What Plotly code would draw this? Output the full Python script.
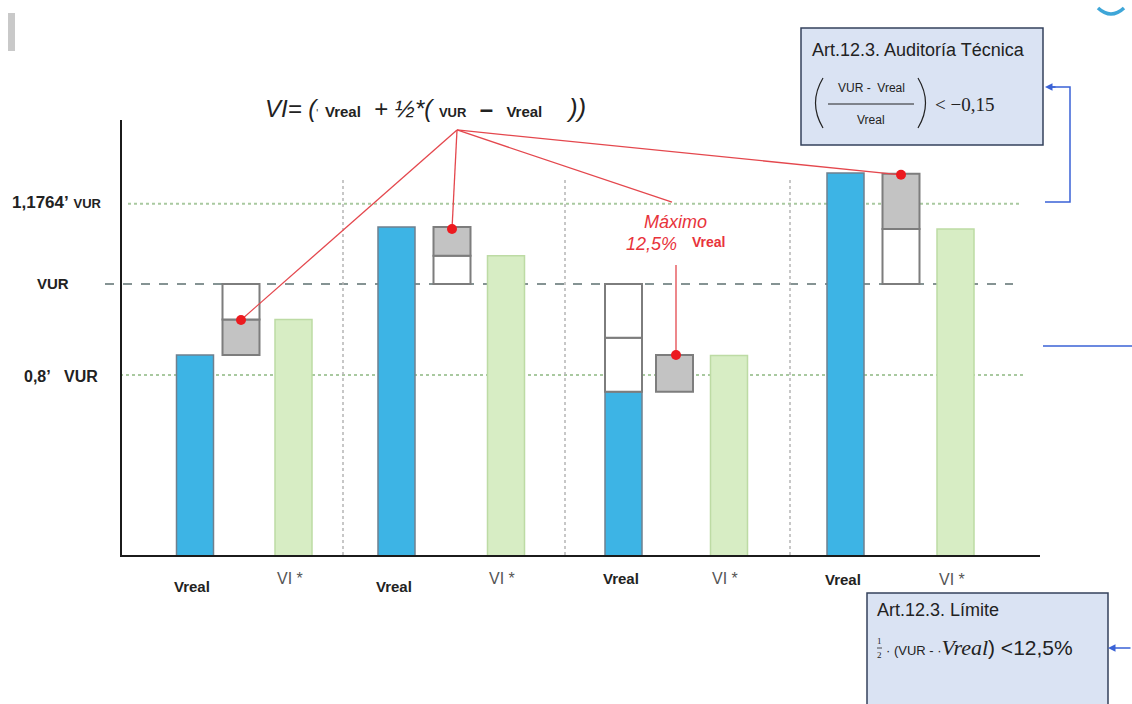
import plotly.graph_objects as go

# ---------------- data (values in units of VUR) ----------------
GROUP_LABELS_REAL = ["Vreal", "Vreal", "Vreal", "Vreal"]
GROUP_LABELS_VI = ["VI *", "VI *", "VI *", "VI *"]
VREAL = [0.844, 1.125, 0.763, 1.244]          # blue bars
VI = [0.922, 1.062, 0.843, 1.121]             # green bars
REF_LEVELS = [1.1764, 1.0, 0.8]               # horizontal reference lines
# stacked box segments: group, column, low, high, kind
SEG_GROUP = [0, 0, 1, 1, 2, 2, 2, 3, 3]
SEG_COL = ["box", "box", "box", "box", "real", "real", "box", "box", "box"]
SEG_LOW = [0.844, 0.922, 1.000, 1.062, 0.763, 0.882, 0.763, 1.000, 1.121]
SEG_HIGH = [0.922, 1.000, 1.062, 1.125, 0.882, 1.000, 0.844, 1.121, 1.242]
SEG_KIND = ["gray", "white", "white", "gray", "white", "white", "gray", "white", "gray"]
DOT_Y = [0.921, 1.121, 0.844, 1.240]          # red markers

# ---------------- layout constants ----------------
W, H = 1132, 704
L, R, T, B = 122, 1040, 120, 555
Y_RANGE = [0.4044, 1.3604]
COL_X = {"real": [195, 396.5, 623.5, 845.5],
         "box": [241, 452, 674.5, 901],
         "vi": [293.5, 506, 729, 955.5]}
BAR_W = 37
APEX = (457, 1.3385)
MAX_TEXT_PT = (672, 1.180)
VERT_TOP = 1.042

NARROW = "Liberation Sans Narrow, Arial Narrow, Liberation Sans, Arial, sans-serif"
SANS = "Liberation Sans, Arial, sans-serif"
SERIF = "Liberation Serif, DejaVu Serif, serif"


def px(x):
    return (x - L) / (R - L)


def py(y):
    return (B - y) / (B - T)


def pv(v):
    return (v - Y_RANGE[0]) / (Y_RANGE[1] - Y_RANGE[0])


fig = go.Figure()

# blue Vreal bars
fig.add_trace(go.Bar(x=COL_X["real"], y=VREAL, width=BAR_W,
                     marker=dict(color="#3db4e5", line=dict(color="#6f808e", width=1.5)),
                     hoverinfo="skip"))
# green VI bars
fig.add_trace(go.Bar(x=COL_X["vi"], y=VI, width=BAR_W,
                     marker=dict(color="#d7edc4", line=dict(color="#bddba4", width=1.5)),
                     hoverinfo="skip"))
# box segments
seg_x = [COL_X[c][g] for g, c in zip(SEG_GROUP, SEG_COL)]
seg_h = [hi - lo for lo, hi in zip(SEG_LOW, SEG_HIGH)]
seg_c = ["#c3c3c3" if k == "gray" else "#ffffff" for k in SEG_KIND]
fig.add_trace(go.Bar(x=seg_x, y=seg_h, base=SEG_LOW, width=BAR_W,
                     marker=dict(color=seg_c, line=dict(color="#7d7d7d", width=2)),
                     hoverinfo="skip"))

# red leader lines
RED = "#e4474d"
targets = [(COL_X["box"][0], DOT_Y[0]), (COL_X["box"][1], DOT_Y[1]),
           MAX_TEXT_PT, (COL_X["box"][3], DOT_Y[3])]
for tx, ty in targets:
    fig.add_trace(go.Scatter(x=[APEX[0], tx], y=[APEX[1], ty], mode="lines",
                             line=dict(color=RED, width=1.3), hoverinfo="skip"))
fig.add_trace(go.Scatter(x=[COL_X["box"][2] + 1.5] * 2, y=[VERT_TOP, DOT_Y[2]], mode="lines",
                         line=dict(color=RED, width=1.3), hoverinfo="skip"))
dot_x = [COL_X["box"][0], COL_X["box"][1], COL_X["box"][2] + 1.5, COL_X["box"][3]]
fig.add_trace(go.Scatter(x=dot_x, y=DOT_Y, mode="markers",
                         marker=dict(color="#ec1a1f", size=10), hoverinfo="skip"))

shapes = []
# horizontal reference lines
ref_style = [("#a9c9a0", "dot", 2, 128, 1020),
             ("#5d7070", "dash", 1.5, 105, 1013),
             ("#a9c9a0", "dot", 2, 120, 1025)]
for lvl, (col, dash, wd, x0, x1) in zip(REF_LEVELS, ref_style):
    shapes.append(dict(type="line", xref="paper", yref="paper", x0=px(x0), x1=px(x1),
                       y0=pv(lvl), y1=pv(lvl), line=dict(color=col, dash=dash, width=wd),
                       layer="below"))
# vertical separators
for sx in [343, 565, 790]:
    shapes.append(dict(type="line", xref="x", yref="paper", x0=sx, x1=sx, y0=0, y1=py(178),
                       line=dict(color="#b5b5b5", dash="dot", width=1.5), layer="below"))

BOX_FILL = "#dae3f3"
BOX_LINE = "#34425c"
# Auditoría box
shapes.append(dict(type="rect", xref="paper", yref="paper", x0=px(801), x1=px(1043),
                   y0=py(28), y1=py(145), fillcolor=BOX_FILL, line=dict(color=BOX_LINE, width=1.5)))
# parentheses and fraction bar
shapes.append(dict(type="path", xref="paper", yref="paper",
                   path=f"M {px(823)},{py(78)} Q {px(808)},{py(103)} {px(823)},{py(128)}",
                   line=dict(color="#222", width=1.2)))
shapes.append(dict(type="path", xref="paper", yref="paper",
                   path=f"M {px(918)},{py(78)} Q {px(933)},{py(103)} {px(918)},{py(128)}",
                   line=dict(color="#222", width=1.2)))
shapes.append(dict(type="line", xref="paper", yref="paper", x0=px(828), x1=px(914),
                   y0=py(104), y1=py(104), line=dict(color="#222", width=1)))
# Límite box
shapes.append(dict(type="rect", xref="paper", yref="paper", x0=px(867), x1=px(1108),
                   y0=py(593), y1=py(712), fillcolor=BOX_FILL, line=dict(color=BOX_LINE, width=1.5)))
shapes.append(dict(type="line", xref="paper", yref="paper", x0=px(877), x1=px(882),
                   y0=py(648), y1=py(648), line=dict(color="#222", width=0.8)))
# blue connectors
BLUE = "#3a62d6"
shapes.append(dict(type="path", xref="paper", yref="paper",
                   path=f"M {px(1045)},{py(202)} L {px(1070)},{py(202)} L {px(1070)},{py(87)} L {px(1052)},{py(87)}",
                   line=dict(color=BLUE, width=1.5)))
shapes.append(dict(type="line", xref="paper", yref="paper", x0=px(1043), x1=px(1132),
                   y0=py(346), y1=py(346), line=dict(color=BLUE, width=1.5)))
# decorations
shapes.append(dict(type="rect", xref="paper", yref="paper", x0=px(8), x1=px(15),
                   y0=py(13), y1=py(51), fillcolor="#c9c9c9", line=dict(width=0)))
shapes.append(dict(type="path", xref="paper", yref="paper",
                   path=f"M {px(1098)},{py(8)} Q {px(1111)},{py(20)} {px(1124)},{py(8)}",
                   line=dict(color="#3ea6d8", width=3.5)))

ann = []


def text(x, y, s, size=14, color="#222", family=SANS, xanchor="center", xref="paper"):
    ann.append(dict(x=px(x) if xref == "paper" else x, y=py(y), xref=xref, yref="paper",
                    text=s, showarrow=False, xanchor=xanchor, yanchor="middle",
                    font=dict(size=size, color=color, family=family)))


SP = "&nbsp;"
# formula
text(263, 108,
     "<i>VI=" + SP + "(</i><span style='font-size:10px'>'</span>" + SP +
     "<b><span style='font-size:15px'>Vreal</span></b>" + SP * 2 + "+" + SP + "<i>½*(</i>" + SP +
     "<b><span style='font-size:13px'>VUR</span></b>" + SP * 2 + "<b>–</b>" + SP * 2 +
     "<b><span style='font-size:15px'>Vreal</span></b>" + SP * 4 + "<i><span style='font-size:26px'>))</span></i>",
     size=24, xanchor="left")
# y labels
text(10, 202, "<b>1,1764’</b> <b><span style='font-size:13px'>VUR</span></b>", size=17, xanchor="left", family=NARROW)
text(35, 283, "<b>VUR</b>", size=15, xanchor="left", family=NARROW)
text(22, 377, "<b>0,8’</b>" + SP * 3 + "<b><span style='font-size:16px'>VUR</span></b>", size=16, xanchor="left", family=NARROW)
# bottom labels
REAL_Y = [586, 586, 578, 579]
VI_Y = [578, 578, 578, 579]
for g in range(4):
    text(COL_X["real"][g] - 3, REAL_Y[g], "<b>" + GROUP_LABELS_REAL[g] + "</b>", size=15,
         family=NARROW, xref="x")
    text(COL_X["vi"][g] - 4, VI_Y[g], GROUP_LABELS_VI[g], size=16, color="#555",
         family=NARROW, xref="x")
# Máximo text
text(675, 222, "<i>Máximo</i>", size=18, color="#e8333b")
text(651, 244, "<i>12,5%</i>", size=18, color="#e8333b")
text(708, 242, "<b>Vreal</b>", size=14, color="#e8333b", family=NARROW)
# Auditoría box text
text(810, 50, "Art.12.3. Auditoría Técnica", size=18, family=NARROW, xanchor="left")
text(871, 88, "VUR -  Vreal", size=12, family=NARROW)
text(871, 120, "Vreal", size=12, family=NARROW)
text(933, 104, "&lt; −0,15", size=19, family=SERIF, xanchor="left")
# Límite box text
text(875, 610, "Art.12.3. Límite", size=18, family=NARROW, xanchor="left")
text(879.5, 641, "1", size=9, family=SERIF)
text(879.5, 655, "2", size=9, family=SERIF)
text(884, 647, "·" + SP + "(VUR -" + SP + "·" +
     "<i><span style='font-family:Liberation Serif, serif;font-size:22px'>Vreal</span></i>"
     "<span style='font-size:21px'>)" + SP + "&lt;12,5%</span>", size=13, family=NARROW, xanchor="left")
# arrows
ann.append(dict(x=px(1045), y=py(87), xref="paper", yref="paper", ax=12, ay=0, text="",
                showarrow=True, arrowhead=2, arrowsize=1, arrowwidth=1.5, arrowcolor=BLUE))
ann.append(dict(x=px(1108), y=py(648), xref="paper", yref="paper", ax=26, ay=0, text="",
                showarrow=True, arrowhead=2, arrowsize=1, arrowwidth=1.5, arrowcolor=BLUE))

fig.update_layout(
    width=W, height=H, margin=dict(l=L, r=W - R, t=T, b=H - B),
    paper_bgcolor="white", plot_bgcolor="white", showlegend=False,
    barmode="overlay", shapes=shapes, annotations=ann,
    xaxis=dict(range=[L, R], showline=True, linecolor="#1b1b1b", linewidth=2,
               showgrid=False, zeroline=False, showticklabels=False, ticks=""),
    yaxis=dict(range=Y_RANGE, showline=True, linecolor="#1b1b1b", linewidth=2,
               showgrid=False, zeroline=False, showticklabels=False, ticks=""),
)
fig.write_html("out.html", config={"displayModeBar": False},
               post_script="document.body.style.margin='0';")
